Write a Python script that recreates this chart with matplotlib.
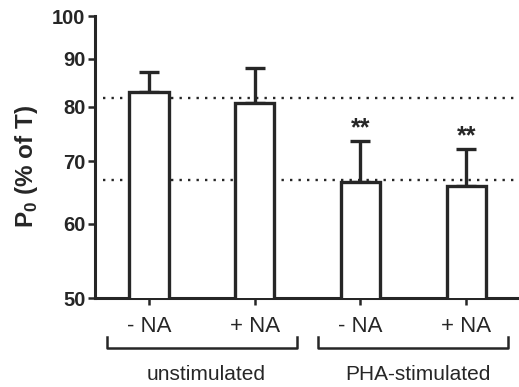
import matplotlib
matplotlib.use("Agg")
import matplotlib.pyplot as plt
import matplotlib.transforms as mtransforms
import numpy as np

plt.rcParams['font.family'] = ['Liberation Sans', 'DejaVu Sans']
plt.rcParams['mathtext.fontset'] = 'custom'
plt.rcParams['mathtext.rm'] = 'Liberation Sans:bold'
plt.rcParams['mathtext.bf'] = 'Liberation Sans:bold'

# values
labels = ['- NA', '+ NA', '- NA', '+ NA']
means = [83.0, 80.8, 66.5, 65.8]
errors = [4.2, 7.2, 7.1, 6.4]
stars = ['', '', '**', '**']
ref_lines = [81.8, 66.8]
groups = ['unstimulated', 'PHA-stimulated']
group_centers = [0.5, 2.5]
yticks = [50, 60, 70, 80, 90, 100]

ink = '#262626'

fig = plt.figure(figsize=(5.19, 3.87), dpi=100)
ax = fig.add_axes([95 / 519, 89 / 387, 424 / 519, 282 / 387])

x = np.arange(len(means))
ax.hlines(ref_lines, -0.435, 3.5, colors=ink, linestyles=(0, (1, 2.6)),
          linewidth=1.7, zorder=1)

ax.bar(x, means, width=0.37, bottom=0, color='white', edgecolor=ink,
       linewidth=2.4, zorder=3)
ax.errorbar(x, means, yerr=[np.zeros(len(errors)), errors], fmt='none',
            ecolor=ink, elinewidth=2.4, capsize=7.5, capthick=2.4, zorder=2)

for xi, m, e, s in zip(x, means, errors, stars):
    if s:
        ax.annotate(s, (xi, m + e), xytext=(0, 0), textcoords='offset points',
                    ha='center', va='bottom', fontsize=18, fontweight='bold',
                    color=ink)

ax.set_yscale('log')
ax.set_ylim(50, 100)
ax.set_yticks(yticks)
ax.set_yticklabels([str(t) for t in yticks])
ax.yaxis.set_minor_locator(matplotlib.ticker.NullLocator())
ax.set_xlim(-0.511, 3.5)
ax.set_xticks(x)
ax.set_xticklabels(labels, fontsize=16, color=ink)

for lab in ax.get_yticklabels():
    lab.set_fontweight('bold')
    lab.set_fontsize(14.5)
    lab.set_color(ink)

ax.tick_params(axis='y', length=5, width=1.8, color=ink, pad=2)
ax.tick_params(axis='x', length=5, width=1.8, color=ink, pad=8)

for side in ['top', 'right']:
    ax.spines[side].set_visible(False)
for side in ['left', 'bottom']:
    ax.spines[side].set_linewidth(2.2)
    ax.spines[side].set_color(ink)

ax.set_ylabel(r'P$_{0}$ (% of T)', fontsize=17.5, fontweight='bold', color=ink)
ax.yaxis.set_label_coords(-0.13, 0.468)

# group brackets under the tick labels
trans = mtransforms.blended_transform_factory(ax.transData, ax.transAxes)
for c, g in zip(group_centers, groups):
    x0, x1 = c - 0.9, c + 0.9
    ax.plot([x0, x0, x1, x1], [-0.138, -0.177, -0.177, -0.138], color=ink,
            linewidth=1.8, transform=trans, clip_on=False)
    ax.text(c + 0.04, -0.27, g, transform=trans, ha='center', va='center',
            fontsize=15, color=ink)

fig.savefig('out.png', dpi=100)
